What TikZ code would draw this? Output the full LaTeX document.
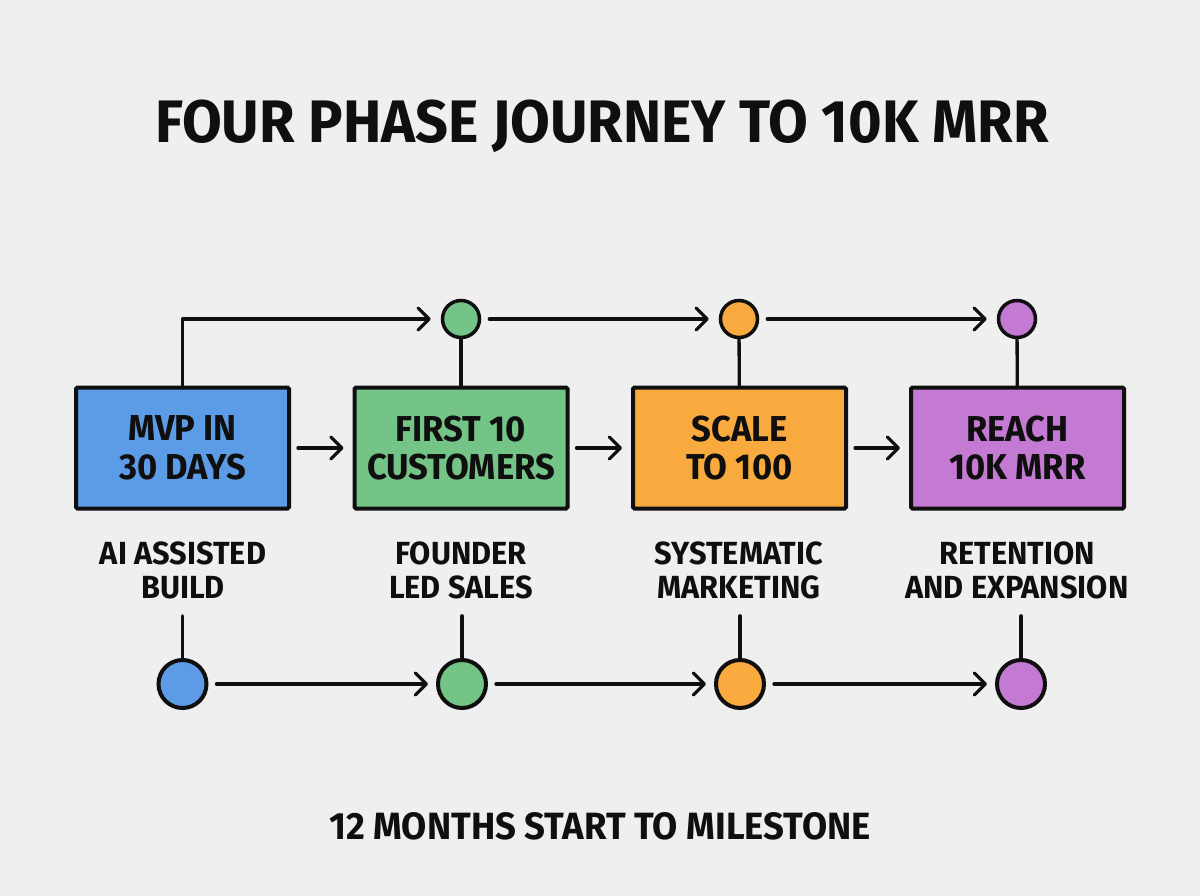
\documentclass[tikz,border=0pt]{standalone}
\usepackage{fontspec}
\newfontfamily\hfont{Fira Sans}[UprightFont=* Bold, FakeStretch=0.96]
\usetikzlibrary{arrows.meta}
\definecolor{bg}{RGB}{239,239,239}
\definecolor{cblue}{RGB}{92,156,230}
\definecolor{cgreen}{RGB}{116,196,136}
\definecolor{corange}{RGB}{248,170,62}
\definecolor{cpurple}{RGB}{196,122,210}
\definecolor{ink}{RGB}{15,15,15}
\tikzset{
  phasebox/.style={draw=ink, line width=4pt, minimum width=213pt, minimum height=121pt, inner sep=0pt, rounded corners=1.5pt, align=center, font=\hfont\fontsize{36}{38.5}\selectfont, text=ink},
  topdot/.style={circle, draw=ink, line width=3.5pt, minimum size=37pt, inner sep=0pt},
  botdot/.style={circle, draw=ink, line width=4pt, minimum size=48pt, inner sep=0pt},
  lbl/.style={align=center, inner sep=0pt, font=\hfont\fontsize{32}{34}\selectfont, text=ink},
  conn/.style={draw=ink, line width=3.3pt, line cap=round, line join=round},
  arr/.style={conn, -{Straight Barb[length=11pt,width=22pt,round]}},
}
\begin{document}
\begin{tikzpicture}[x=1pt,y=-1pt]
\fill[bg] (0,0) rectangle (1200,896);
\useasboundingbox (0,0) rectangle (1200,896);
\node[font=\hfont\fontsize{60}{60}\selectfont, text=ink, inner sep=0pt] (title) at (602,126) {FOUR PHASE JOURNEY TO 10K MRR};
% boxes
\node[phasebox, fill=cblue] (b1) at (182.5,448) {MVP IN\\30 DAYS};
\node[phasebox, fill=cgreen] (b2) at (461,448) {FIRST 10\\CUSTOMERS};
\node[phasebox, fill=corange] (b3) at (739.5,448) {SCALE\\TO 100};
\node[phasebox, fill=cpurple] (b4) at (1017.5,448) {REACH\\10K MRR};
% top dots
\node[topdot, fill=cgreen] (t2) at (461,319) {};
\node[topdot, fill=corange] (t3) at (739,319) {};
\node[topdot, fill=cpurple] (t4) at (1017,319) {};
% labels
\node[lbl] (l1) at (183,570) {AI ASSISTED\\BUILD};
\node[lbl] (l2) at (461,570) {FOUNDER\\LED SALES};
\node[lbl] (l3) at (739,570) {SYSTEMATIC\\MARKETING};
\node[lbl] (l4) at (1017,570) {RETENTION\\AND EXPANSION};
% bottom dots
\node[botdot, fill=cblue] (c1) at (182.5,684) {};
\node[botdot, fill=cgreen] (c2) at (462,684) {};
\node[botdot, fill=corange] (c3) at (740,684) {};
\node[botdot, fill=cpurple] (c4) at (1021,684) {};
% footer
\node[font=\hfont\fontsize{38}{40}\selectfont, text=ink, inner sep=0pt] (foot) at (600,826) {12 MONTHS START TO MILESTONE};
% box arrows
\draw[arr, shorten <=7pt, shorten >=9pt] (b1) -- (b2);
\draw[arr, shorten <=7pt, shorten >=9pt] (b2) -- (b3);
\draw[arr, shorten <=7pt, shorten >=9pt] (b3) -- (b4);
% top route
\draw[arr, shorten >=10pt] (b1.north) |- (t2.west);
\draw[arr, shorten <=8pt, shorten >=10pt] (t2) -- (t3);
\draw[arr, shorten <=8pt, shorten >=10pt] (t3) -- (t4);
\draw[conn] (t2) -- (b2);
\draw[conn] (t3) -- (b3);
\draw[conn] (t4) -- (b4);
% label stems
\draw[conn, shorten <=17pt] (c1.north |- l1.south) -- (c1.north);
\draw[conn, shorten <=17pt] (c2.north |- l2.south) -- (c2.north);
\draw[conn, shorten <=17pt] (c3.north |- l3.south) -- (c3.north);
\draw[conn, shorten <=17pt] (c4.north |- l4.south) -- (c4.north);
% bottom route
\draw[arr, shorten <=8pt, shorten >=8pt] (c1) -- (c2);
\draw[arr, shorten <=8pt, shorten >=8pt] (c2) -- (c3);
\draw[arr, shorten <=8pt, shorten >=8pt] (c3) -- (c4);
\end{tikzpicture}
\end{document}
